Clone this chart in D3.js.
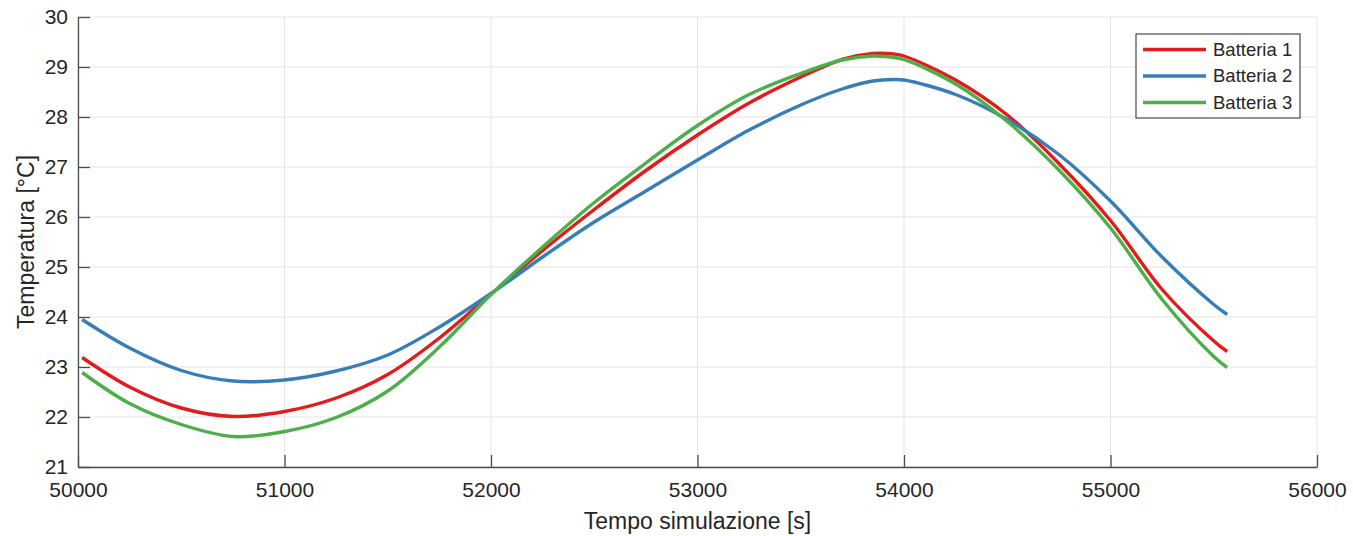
<!DOCTYPE html>
<html>
<head>
<meta charset="utf-8">
<script src="https://cdn.jsdelivr.net/npm/d3@7"></script>
<style>
  html, body { margin: 0; padding: 0; background: #fff; }
  svg { display: block; font-family: "Liberation Sans", Arial, Helvetica, sans-serif; }
</style>
</head>
<body>
<div id="chart"></div>
<script>
// Simulation time [s]
const tempo = [50020, 50250, 50500, 50750, 51000, 51250, 51500, 51750, 52000, 52250, 52500, 52750,
  53000, 53250, 53500, 53700, 53850, 53950, 54000, 54250, 54500, 54750, 55000, 55250, 55500, 55565]

// Temperatures [°C]
const batteria1 = [23.19, 22.6, 22.18, 22.01, 22.11, 22.38, 22.85, 23.58, 24.46, 25.33, 26.15, 26.93,
  27.64, 28.28, 28.8, 29.15, 29.27, 29.26, 29.22, 28.74, 28.04, 27.07, 25.93, 24.55, 23.52, 23.31]
const batteria2 = [23.95, 23.38, 22.93, 22.72, 22.74, 22.92, 23.24, 23.8, 24.47, 25.2, 25.9, 26.52,
  27.14, 27.74, 28.24, 28.56, 28.72, 28.75, 28.74, 28.45, 27.95, 27.25, 26.32, 25.2, 24.25, 24.05]
const batteria3 = [22.89, 22.27, 21.85, 21.61, 21.71, 21.99, 22.52, 23.4, 24.45, 25.4, 26.29, 27.08,
  27.83, 28.45, 28.87, 29.14, 29.22, 29.19, 29.15, 28.66, 27.91, 26.94, 25.78, 24.35, 23.21, 22.99]

const seriesNames = ["Batteria 1", "Batteria 2", "Batteria 3"]
const seriesColors = ["#e41a1c", "#377eb8", "#4daf4a"]
const xTicks = [50000, 51000, 52000, 53000, 54000, 55000, 56000]
const yTicks = [21, 22, 23, 24, 25, 26, 27, 28, 29, 30]

const W = 1353, H = 536
const margin = { top: 17, right: 36, bottom: 69, left: 78 }
const width = W - margin.left - margin.right
const height = H - margin.top - margin.bottom

const svg = d3.select("#chart").append("svg")
  .attr("width", W)
  .attr("height", H)

const g = svg.append("g")
  .attr("transform", `translate(${margin.left},${margin.top})`)

const x = d3.scaleLinear().domain([50000, 56000]).range([0, width])
const y = d3.scaleLinear().domain([21, 30]).range([height, 0])

// Grid
g.append("g")
  .selectAll("line")
  .data(xTicks)
  .join("line")
  .attr("x1", d => x(d)).attr("x2", d => x(d))
  .attr("y1", 0).attr("y2", height)
  .style("stroke", "#e3e3e3")
  .style("stroke-width", 1)

g.append("g")
  .selectAll("line")
  .data(yTicks)
  .join("line")
  .attr("x1", 0).attr("x2", width)
  .attr("y1", d => y(d)).attr("y2", d => y(d))
  .style("stroke", "#e3e3e3")
  .style("stroke-width", 1)

// Axes (ticks pointing inward)
const xAxis = g.append("g")
  .attr("transform", `translate(0,${height})`)
  .call(d3.axisBottom(x).tickValues(xTicks).tickFormat(d3.format("d")).tickSizeInner(-12).tickSizeOuter(0))

const yAxis = g.append("g")
  .call(d3.axisLeft(y).tickValues(yTicks).tickFormat(d3.format("d")).tickSizeInner(-12).tickSizeOuter(0))

for (const ax of [xAxis, yAxis]) {
  ax.select(".domain").style("stroke", "#4d4d4d").style("stroke-width", 1.3)
  ax.selectAll(".tick line").style("stroke", "#4d4d4d").style("stroke-width", 1.3)
  ax.selectAll("text")
    .style("font-size", "21px")
    .style("fill", "#262626")
    .style("font-family", "'Liberation Sans', Arial, sans-serif")
}
xAxis.selectAll("text").attr("dy", "0").attr("y", 30)
yAxis.selectAll("text").attr("x", -10)

// Lines
const series = [batteria1, batteria2, batteria3]
const line = d3.line()
  .x((d, i) => x(tempo[i]))
  .y(d => y(d))
  .curve(d3.curveCatmullRom.alpha(0.5))

g.append("g")
  .selectAll("path")
  .data(series)
  .join("path")
  .attr("d", d => line(d))
  .style("fill", "none")
  .style("stroke", (d, i) => seriesColors[i])
  .style("stroke-width", 3.4)
  .style("stroke-linejoin", "round")

// Axis labels
svg.append("text")
  .attr("x", margin.left + width / 2)
  .attr("y", 529)
  .attr("text-anchor", "middle")
  .style("font-size", "23px")
  .style("fill", "#262626")
  .text("Tempo simulazione [s]")

svg.append("text")
  .attr("transform", `translate(34,${margin.top + height / 2}) rotate(-90)`)
  .attr("text-anchor", "middle")
  .style("font-size", "23px")
  .style("fill", "#262626")
  .text("Temperatura [°C]")

// Legend
const legend = svg.append("g").attr("transform", "translate(1136,34)")
legend.append("rect")
  .attr("width", 164)
  .attr("height", 84)
  .style("fill", "#fff")
  .style("stroke", "#262626")
  .style("stroke-width", 1)

const item = legend.selectAll(".legend-item")
  .data(seriesNames)
  .join("g")
  .attr("class", "legend-item")
  .attr("transform", (d, i) => `translate(0,${15.5 + i * 26.5})`)

item.append("line")
  .attr("x1", 7).attr("x2", 70)
  .style("stroke", (d, i) => seriesColors[i])
  .style("stroke-width", 3.4)

item.append("text")
  .attr("x", 77)
  .attr("dy", "0.35em")
  .style("font-size", "18.5px")
  .style("fill", "#262626")
  .text(d => d)
</script>
</body>
</html>
